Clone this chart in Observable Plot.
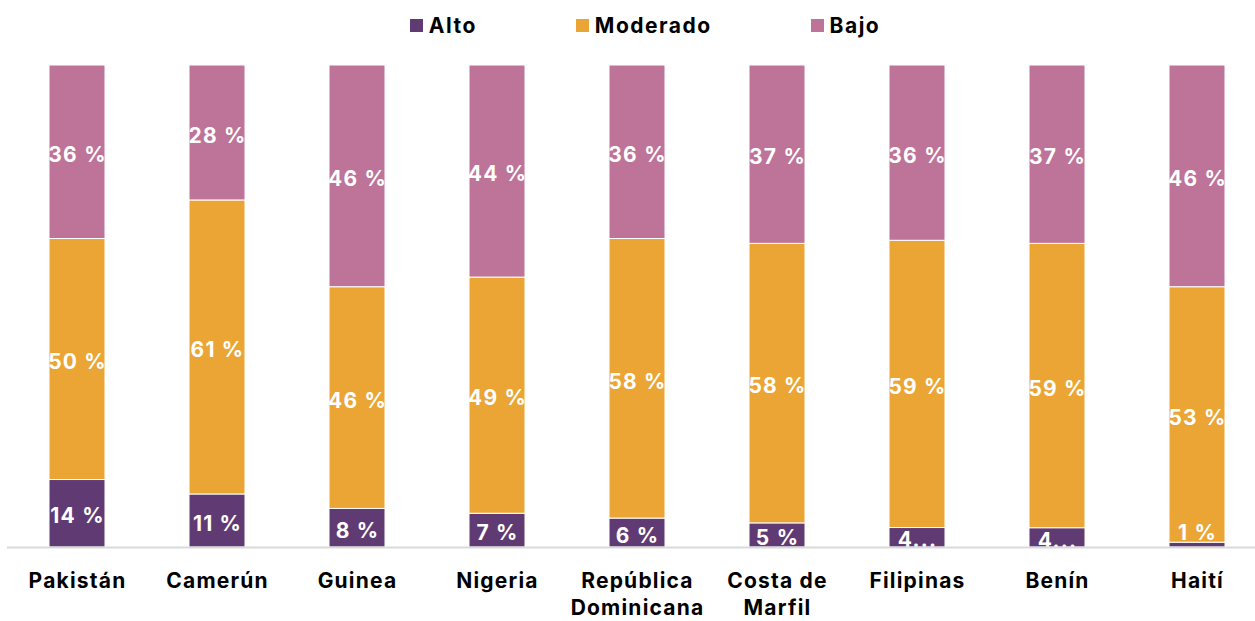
<!DOCTYPE html>
<html>
<head>
<meta charset="utf-8">
<script src="https://cdn.jsdelivr.net/npm/d3@7"></script>
<script src="https://cdn.jsdelivr.net/npm/@observablehq/plot@0.6"></script>
<style>
  html, body { margin: 0; padding: 0; background: #fff; }
  body { width: 1255px; height: 621px; overflow: hidden; font-family: Inter, "DejaVu Sans", sans-serif; }
  #legend { height: 45px; padding-top: 6px; display: flex; justify-content: center; align-items: center; gap: 99px; padding-left: 35px; box-sizing: border-box; font-weight: 700; font-size: 21px; letter-spacing: 1.5px; color: #000; }
  #legend .item { display: flex; align-items: center; gap: 6px; }
  #legend .sw { width: 13px; height: 13px; display: inline-block; }
  #chart svg { display: block; }
</style>
</head>
<body>
<div id="legend"></div>
<div id="chart"></div>
<script>
const countries = ["Pakistán","Camerún","Guinea","Nigeria","República Dominicana","Costa de Marfil","Filipinas","Benín","Haití"];
const tickLabels = ["Pakistán","Camerún","Guinea","Nigeria","República\nDominicana","Costa de\nMarfil","Filipinas","Benín","Haití"];
const levels = ["Alto","Moderado","Bajo"];
const colors = ["#5f3a73","#eba535","#be7399"];
const alto = [14,11,8,7,6,5,4,4,1];
const moderado = [50,61,46,49,58,58,59,59,53];
const bajo = [36,28,46,44,36,37,36,37,46];
const altoLabels = ["14 %","11 %","8 %","7 %","6 %","5 %","4...","4...","1 %"];

const series = [alto, moderado, bajo];
const data = [];
countries.forEach((c, i) => {
  levels.forEach((lv, j) => {
    const v = series[j][i];
    data.push({country: c, level: lv, value: v, label: j === 0 ? altoLabels[i] : `${v} %`});
  });
});

// legend
const legend = document.getElementById("legend");
levels.forEach((lv, j) => {
  const it = document.createElement("div");
  it.className = "item";
  it.innerHTML = `<span class="sw" style="background:${colors[j]}"></span><span>${lv}</span>`;
  legend.appendChild(it);
});

const font = "Inter, 'DejaVu Sans', sans-serif";
const stackOpts = {x: "country", y: "value", z: "level", order: levels, offset: "normalize"};

const chart = Plot.plot({
  width: 1255,
  height: 576,
  marginTop: 20,
  marginBottom: 74,
  marginLeft: 7,
  marginRight: 0,
  style: {fontFamily: font, background: "#fff", letterSpacing: "1.2px"},
  x: {domain: countries, paddingInner: 0.6, paddingOuter: 0.257, align: 0.583, label: null},
  y: {domain: [0, 1], axis: null},
  color: {domain: levels, range: colors},
  marks: [
    Plot.barY(data, Plot.stackY({...stackOpts, fill: "level", stroke: "#fff", strokeWidth: 1})),
    Plot.text(data, Plot.stackY({...stackOpts, text: d => d.value >= 2 ? d.label : null,
      fill: "#fff", fontSize: 21, fontWeight: 700, dy: 3})),
    Plot.text(data, Plot.stackY2({...stackOpts, text: d => d.value < 2 ? d.label : null,
      fill: "#fff", fontSize: 21, fontWeight: 700, lineAnchor: "bottom", dy: -3})),
    Plot.ruleY([0], {stroke: "#d9d9d9", strokeWidth: 2}),
    Plot.axisX({tickSize: 0, tickPadding: 21, fontSize: 21, fontWeight: 700, fill: "#000",
      letterSpacing: "1.5px", lineHeight: 1.3, tickFormat: d => tickLabels[countries.indexOf(d)], label: null})
  ]
});
document.getElementById("chart").appendChild(chart);
</script>
</body>
</html>
